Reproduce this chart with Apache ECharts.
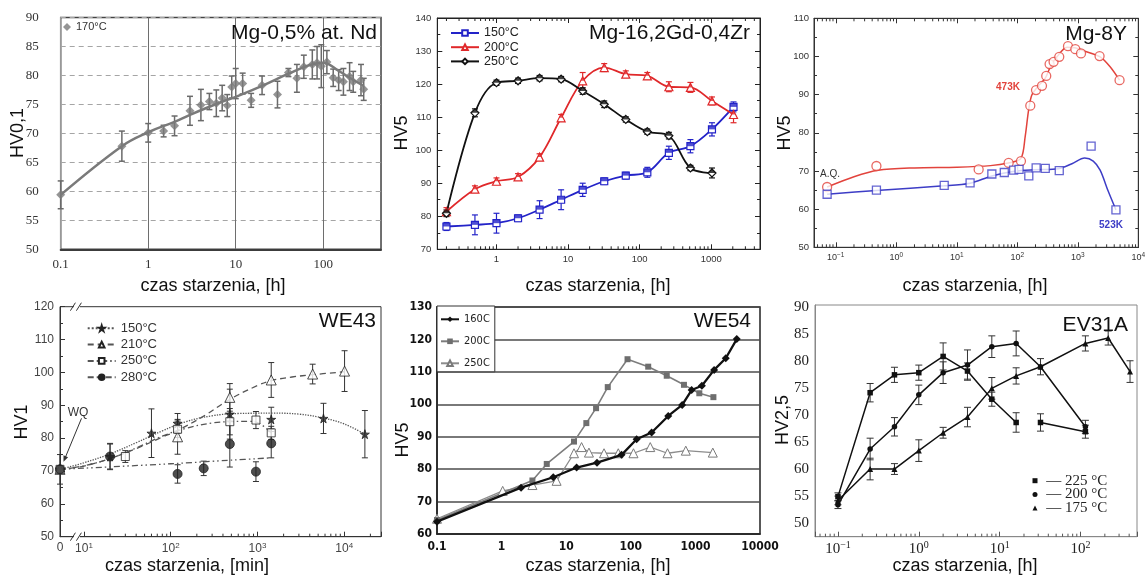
<!DOCTYPE html>
<html>
<head>
<meta charset="utf-8">
<title>Twardość stopów Mg w funkcji czasu starzenia</title>
<script src="https://cdn.jsdelivr.net/npm/echarts@6.0.0/dist/echarts.min.js"></script>
<style>
html, body { margin: 0; padding: 0; background: #fff; }
#chart { width: 1146px; height: 585px; }
</style>
</head>
<body>
<div id="chart"></div>
<script>
// ===== Mg-0,5% at. Nd, ageing at 170°C (HV0,1) =====
const ndTime = [0.1, 0.5, 1, 1.5, 2, 3, 4, 5, 6, 7, 8, 9, 10, 12, 15, 20, 30, 40, 50, 60, 75, 85, 95, 110, 130, 150, 170, 200, 220, 270, 290];
const ndHv   = [59.4, 67.8, 70.1, 70.4, 71.3, 73.9, 74.9, 75.5, 75.2, 76.1, 74.8, 78.0, 78.6, 78.6, 75.7, 78.3, 76.7, 80.5, 79.5, 81.5, 81.9, 82.2, 81.6, 82.3, 79.6, 79.2, 78.9, 79.8, 78.9, 79.2, 77.6];
const ndErr  = [2.4, 2.6, 1.6, 1.0, 1.7, 2.5, 2.7, 1.4, 2.3, 2.2, 1.9, 1.9, 2.6, 1.8, 1.2, 1.6, 2.3, 0.7, 2.4, 2.0, 2.5, 2.8, 3.7, 2.0, 1.5, 1.8, 2.3, 2.4, 1.8, 2.7, 1.9];
const ndTrendTime = [0.1, 0.5, 1, 2, 3, 5, 8, 10, 20, 40, 70, 100, 150, 200, 290];
const ndTrendHv   = [59.4, 67.8, 70.2, 72.0, 73.2, 74.6, 75.8, 76.3, 78.2, 80.3, 81.8, 82.2, 80.8, 79.6, 78.2];

// ===== Mg-16,2Gd-0,4Zr (HV5) =====
const gdTime   = [0.2, 0.5, 1, 2, 4, 8, 16, 32, 64, 128, 256, 512, 1024, 2048];
const gd150    = [76.9, 77.4, 77.9, 79.4, 82.0, 85.0, 88.0, 90.6, 92.3, 93.3, 99.2, 101.2, 106.3, 113.1];
const gd150Err = [1.2, 3.0, 3.0, 1.0, 2.7, 3.0, 2.0, 1.0, 1.0, 1.5, 2.0, 2.0, 2.0, 1.5];
const gd200    = [81.4, 88.2, 90.6, 91.9, 97.9, 109.8, 121.0, 125.0, 123.0, 122.5, 119.2, 119.0, 114.9, 110.8];
const gd200Err = [1.2, 1.0, 1.0, 1.0, 1.0, 1.0, 2.5, 1.2, 1.0, 1.0, 1.5, 1.5, 1.2, 2.5];
const gd250    = [80.9, 111.3, 120.4, 121.0, 121.8, 121.5, 117.9, 113.9, 109.3, 105.6, 104.4, 94.6, 93.1];
const gd250Err = [1.0, 1.2, 0.8, 0.8, 0.8, 0.8, 1.0, 1.0, 0.8, 0.8, 1.0, 0.8, 1.5];

// ===== Mg-8Y (HV5), 473 K and 523 K =====
const y8Time473 = [0.072, 0.47, 23, 72, 115, 164, 204, 256, 301, 342, 398, 494, 689, 910, 1130, 2290, 4900];
const y8Hv473   = [65.8, 71.3, 70.4, 72.1, 72.6, 87.1, 91.2, 92.3, 94.9, 98.0, 98.6, 99.9, 102.7, 101.9, 100.8, 100.1, 93.8];
const y8Time523 = [0.072, 0.47, 6.2, 16.6, 38, 61, 87, 107, 155, 205, 290, 494, 1660, 4270];
const y8Hv523   = [63.9, 65.0, 66.2, 66.9, 69.2, 69.6, 70.2, 70.4, 68.7, 70.8, 70.7, 70.1, 76.5, 59.8];
const y8FitTime473 = [0.072, 0.2, 0.5, 2, 10, 36, 71, 115, 135, 154, 174, 223, 290, 352, 453, 665, 900, 1250, 2340, 3420, 4900];
const y8FitHv473   = [65.8, 68.5, 70.2, 70.8, 71.0, 71.4, 72.1, 73.3, 79.0, 86.0, 89.9, 92.3, 94.3, 97.3, 99.9, 102.4, 102.3, 101.5, 99.9, 97.3, 93.8];
const y8FitTime523 = [0.072, 0.47, 6.2, 16.6, 38, 90, 200, 480, 800, 1300, 1800, 2340, 3200, 4270];
const y8FitHv523   = [63.9, 64.9, 66.1, 66.8, 68.7, 69.9, 70.3, 70.6, 71.9, 73.4, 72.6, 70.2, 64.6, 59.8];

// ===== WE43 (HV1), time in minutes; 0 = water quenched =====
const weT150 = [0, 20, 60, 120, 480, 1440, 5760, 17280];
const weHv150 = [70.5, 74.4, 81.5, 84.5, 87.3, 85.7, 86.0, 81.2];
const weErr150 = [0, 3.8, 7.4, 3.0, 7.6, 3.7, 4.6, 7.2];
const weT210 = [0, 120, 480, 1440, 4320, 10080];
const weHv210 = [70.5, 80.4, 92.4, 97.7, 99.5, 100.4];
const weErr210 = [0, 5.3, 4.2, 5.3, 3.0, 6.2];
const weT250 = [0, 30, 120, 480, 960, 1440];
const weHv250 = [70.5, 74.4, 82.7, 85.0, 85.5, 81.6];
const weErr250 = [0, 1.8, 2.5, 4.0, 2.6, 2.0];
const weT280 = [0, 20, 120, 240, 480, 960, 1440];
const weHv280 = [70.5, 74.4, 69.1, 70.8, 78.2, 69.8, 78.4];
const weErr280 = [4.5, 4.0, 2.8, 2.2, 7.0, 3.0, 4.4];
const weFitT150 = [0, 10, 20, 40, 80, 150, 300, 600, 1500, 3000, 6000, 10000, 17280];
const weFitHv150 = [70.5, 72.5, 75.2, 78.6, 82.2, 85.0, 86.8, 87.5, 87.6, 87.3, 86.0, 84.3, 81.2];
const weFitT210 = [0, 10, 20, 40, 80, 120, 250, 480, 1000, 1440, 2500, 4320, 10080];
const weFitHv210 = [70.5, 71.5, 73.8, 76.8, 80.3, 82.3, 87.0, 91.8, 96.0, 97.5, 98.6, 99.3, 100.2];
const weFitT250 = [0, 10, 20, 40, 80, 150, 300, 480, 800, 960, 1440];
const weFitHv250 = [70.5, 71.6, 73.8, 77.0, 80.6, 83.0, 84.6, 85.0, 85.1, 84.9, 81.6];
const weFitT280 = [0, 100, 500, 1440];
const weFitHv280 = [70.5, 72.2, 73.3, 74.0];

// ===== WE54 (HV5) =====
const w54T160 = [0.1, 2, 6.3, 14.5, 30, 72, 123, 210, 380, 625, 875, 1260, 1950, 2950, 4370];
const w54Hv160 = [63.8, 74.3, 77.5, 80.5, 82.0, 84.4, 89.2, 91.3, 96.4, 99.8, 104.4, 105.7, 110.6, 114.2, 120.1];
const w54T200 = [0.1, 3, 5, 13.2, 20.5, 29, 44, 89, 186, 360, 665, 1150, 1900];
const w54Hv200 = [64.3, 76.5, 81.6, 88.5, 94.2, 98.8, 105.3, 113.9, 111.6, 108.8, 106.0, 103.4, 102.2];
const w54T250 = [0.1, 1.04, 3, 7.1, 13.2, 17.3, 22.5, 38.5, 64, 110, 200, 370, 710, 1860];
const w54Hv250 = [64.7, 73.3, 75.1, 76.4, 84.9, 86.8, 85.1, 84.9, 84.9, 84.9, 86.8, 84.9, 85.7, 85.1];

// ===== EV31A (HV2,5) =====
const evTime = [0.1, 0.25, 0.5, 1, 2, 4, 8, 16, 32, 115];
const ev225 = [54.9, 74.1, 77.4, 77.8, 80.8, 78.1, 72.9, 68.6, 68.6, 66.9];
const ev225Err = [0.7, 1.7, 1.4, 1.4, 2.5, 1.5, 1.3, 1.8, 1.6, 1.2];
const ev225Restart = 8; // the 225 °C curve is interrupted before this point
const ev200 = [53.4, 63.7, 67.8, 73.7, 77.8, 79.2, 82.6, 83.2, 78.9, 67.8];
const ev200Err = [0.7, 2.0, 1.7, 1.8, 2.0, 2.8, 2.0, 2.3, 0, 1.2];
const evTime175 = [0.1, 0.25, 0.5, 1, 2, 4, 8, 16, 32, 115, 220, 410];
const ev175 = [54.2, 60.0, 60.0, 63.4, 66.7, 69.6, 74.9, 77.2, 78.9, 83.2, 84.2, 78.0];
const ev175Err = [0.8, 2.0, 1.0, 2.0, 1.0, 1.8, 2.0, 1.5, 1.5, 1.4, 1.3, 2.0];

// legend texts
const NAMES = {
  nd170: '170°C',
  gd150: '150°C', gd200: '200°C', gd250: '250°C',
  we150: '150°C', we210: '210°C', we250: '250°C', we280: '280°C',
  w160: '160C', w200: '200C', w250: '250C',
  ev225: ' \u2014 225 °C', ev200: ' \u2014 200 °C', ev175: ' \u2014 175 °C'
};

// ---------- layout ----------
const SANS = "'Liberation Sans', Arial, sans-serif";
const SERIF = "'Liberation Serif', 'Times New Roman', serif";
const NARROW = "'Liberation Sans Narrow', 'DejaVu Sans Condensed', sans-serif";

const RANGE = {
  nd:   { x: [0.1, 457],     y: [50, 90] },
  gd:   { x: [0.149, 4800],  y: [70, 140] },
  y8:   { x: [0.0437, 10000], y: [50, 110] },
  we43: { x: [5.3, 26500],   y: [50, 120] },
  we54: { x: [0.1, 10000],   y: [60, 130] },
  ev:   { x: [0.052, 500],   y: [47.5, 90.3] }
};
const weZero = RANGE.we43.x[0]; // position used for t = 0 on the WE43 time axis

const grids = [
  { left: 60.7, top: 17.5, width: 320.3, height: 231.8, show: true, borderColor: '#444', borderWidth: 1.5 },
  { left: 437.3, top: 18, width: 322.7, height: 231.3, show: true, borderColor: '#222', borderWidth: 1 },
  { left: 814, top: 18.3, width: 324.3, height: 229, show: true, borderColor: '#333', borderWidth: 1 },
  { left: 60, top: 306.7, width: 321, height: 230, show: true, borderColor: '#333', borderWidth: 1 },
  { left: 437, top: 307, width: 323, height: 227, show: true, borderColor: '#222', borderWidth: 1.5 },
  { left: 815, top: 305, width: 322, height: 231.7, show: true, borderColor: '#888', borderWidth: 1 }
].map(g => Object.assign({ outerBoundsMode: 'none', containLabel: false }, g));

// ---------- helpers ----------
const pair = (ts, vs) => ts.map((t, i) => [t, vs[i]]);
const triple = (ts, vs, es) => ts.map((t, i) => [t, vs[i], es[i]]).filter(d => d[2] > 0);
const weX = t => (t === 0 ? weZero : t);

function isPow10(v) { const l = Math.log10(v); return Math.abs(l - Math.round(l)) < 1e-6; }
function plainLog(v) {
  if (!isPow10(v)) return '';
  const r = Math.round(Math.log10(v));
  return r < 0 ? Math.pow(10, r).toFixed(-r) : String(Math.round(Math.pow(10, r)));
}
function supLog(v) {
  if (!isPow10(v)) return '';
  const r = Math.round(Math.log10(v));
  return '{b|10}{s|' + (r < 0 ? '\u2212' + (-r) : r) + '}';
}
function supRich(font, base, sup, color, lift) {
  return {
    b: { fontFamily: font, fontSize: base, color },
    s: { fontFamily: font, fontSize: sup, color, padding: [0, 0, lift, 0] }
  };
}

function errBars(ax, data, color, cap, width) {
  return {
    type: 'custom', xAxisIndex: ax, yAxisIndex: ax, silent: true, z: 2, clip: false,
    dimensions: ['t', 'hv', 'err'], encode: { x: 't', y: 'hv' }, data,
    renderItem(params, api) {
      const t = api.value(0), v = api.value(1), e = api.value(2);
      const a = api.coord([t, v + e]), b = api.coord([t, v - e]);
      const h = cap / 2;
      const st = () => ({ stroke: color, lineWidth: width });
      return { type: 'group', children: [
        { type: 'line', shape: { x1: a[0], y1: a[1], x2: b[0], y2: b[1] }, style: st() },
        { type: 'line', shape: { x1: a[0] - h, y1: a[1], x2: a[0] + h, y2: a[1] }, style: st() },
        { type: 'line', shape: { x1: b[0] - h, y1: b[1], x2: b[0] + h, y2: b[1] }, style: st() }
      ] };
    }
  };
}

// minor ticks of a log axis (2..9 in every decade), drawn inward from one edge
function logMinorTicks(ax, range, yEdge, len, color, from) {
  const vals = [];
  const lo = from || range[0];
  for (let k = Math.floor(Math.log10(range[0])); k <= Math.floor(Math.log10(range[1])); k++) {
    for (let m = 2; m <= 9; m++) {
      const v = m * Math.pow(10, k);
      if (v > lo && v < range[1]) vals.push([v, yEdge]);
    }
  }
  return {
    type: 'custom', xAxisIndex: ax, yAxisIndex: ax, silent: true, clip: false, z: 6,
    encode: { x: 0, y: 1 }, data: vals,
    renderItem(p, api) {
      const c = api.coord([api.value(0), api.value(1)]);
      return { type: 'line', shape: { x1: c[0], y1: c[1], x2: c[0], y2: c[1] + len }, style: { stroke: color, lineWidth: 1 } };
    }
  };
}

const STAR = 'path://M50,0 L61,35 L98,35 L68,57 L79,91 L50,70 L21,91 L32,57 L2,35 L39,35 Z';

// ---------- axes ----------
const xAxis = [
  { gridIndex: 0, type: 'log', min: RANGE.nd.x[0], max: RANGE.nd.x[1],
    axisLine: { lineStyle: { color: '#3c3c3c', width: 2 } }, axisTick: { show: false },
    splitLine: { show: true, lineStyle: { color: '#6e6e6e', width: 1 } },
    axisLabel: { fontFamily: SERIF, fontSize: 13, color: '#333', margin: 9, formatter: plainLog } },
  { gridIndex: 1, type: 'log', min: RANGE.gd.x[0], max: RANGE.gd.x[1],
    axisLine: { lineStyle: { color: '#222' } }, axisTick: { inside: true, length: 5, lineStyle: { color: '#222' } },
    splitLine: { show: false },
    axisLabel: { fontFamily: SANS, fontSize: 9.5, color: '#333', margin: 5, formatter: plainLog } },
  { gridIndex: 2, type: 'log', min: RANGE.y8.x[0], max: RANGE.y8.x[1],
    axisLine: { lineStyle: { color: '#333' } }, axisTick: { inside: true, length: 5, lineStyle: { color: '#333' } },
    splitLine: { show: false },
    axisLabel: { margin: 4, formatter: supLog, rich: supRich(SANS, 9, 6.5, '#333', 5) } },
  { gridIndex: 3, type: 'log', min: RANGE.we43.x[0], max: RANGE.we43.x[1],
    axisLine: { lineStyle: { color: '#333' } }, axisTick: { inside: true, length: 5, lineStyle: { color: '#333' } },
    splitLine: { show: false },
    axisLabel: { margin: 5, formatter: v => (v < 9 ? '{b|0}' : supLog(v)), rich: supRich(SANS, 12, 8, '#444', 6) } },
  { gridIndex: 4, type: 'log', min: RANGE.we54.x[0], max: RANGE.we54.x[1],
    axisLine: { lineStyle: { color: '#222', width: 1.5 } }, axisTick: { show: false },
    splitLine: { show: false },
    axisLabel: { fontFamily: NARROW, fontWeight: 'bold', fontSize: 12, color: '#111', margin: 7, formatter: plainLog } },
  { gridIndex: 5, type: 'log', min: RANGE.ev.x[0], max: RANGE.ev.x[1],
    axisLine: { lineStyle: { color: '#888' } }, axisTick: { inside: true, length: 5, lineStyle: { color: '#555' } },
    splitLine: { show: false },
    axisLabel: { margin: 4, formatter: supLog, rich: supRich(SERIF, 15, 10, '#222', 7) } },
  // mirrored top axes
  { gridIndex: 1, type: 'log', position: 'top', min: RANGE.gd.x[0], max: RANGE.gd.x[1],
    axisLine: { lineStyle: { color: '#222' } }, axisTick: { inside: true, length: 5, lineStyle: { color: '#222' } },
    axisLabel: { show: false }, splitLine: { show: false } },
  { gridIndex: 2, type: 'log', position: 'top', min: RANGE.y8.x[0], max: RANGE.y8.x[1],
    axisLine: { lineStyle: { color: '#333' } }, axisTick: { inside: true, length: 5, lineStyle: { color: '#333' } },
    axisLabel: { show: false }, splitLine: { show: false } }
];

const yAxis = [
  { gridIndex: 0, type: 'value', min: RANGE.nd.y[0], max: RANGE.nd.y[1], interval: 5,
    axisLine: { show: true, lineStyle: { color: '#999' } }, axisTick: { show: false },
    splitLine: { show: true, lineStyle: { type: [5, 4], color: '#a5a5a5' } },
    axisLabel: { fontFamily: SERIF, fontSize: 13, color: '#333', margin: 22 } },
  { gridIndex: 1, type: 'value', min: RANGE.gd.y[0], max: RANGE.gd.y[1], interval: 10,
    axisLine: { show: true, lineStyle: { color: '#222' } },
    axisTick: { inside: true, length: 5, lineStyle: { color: '#222' } },
    minorTick: { show: true, splitNumber: 2, length: 3, lineStyle: { color: '#222' } },
    splitLine: { show: false },
    axisLabel: { fontFamily: SANS, fontSize: 9.5, color: '#333', margin: 6 } },
  { gridIndex: 2, type: 'value', min: RANGE.y8.y[0], max: RANGE.y8.y[1], interval: 10,
    axisLine: { show: true, lineStyle: { color: '#333' } },
    axisTick: { inside: true, length: 5, lineStyle: { color: '#333' } },
    minorTick: { show: true, splitNumber: 2, length: 3, lineStyle: { color: '#333' } },
    splitLine: { show: false },
    axisLabel: { fontFamily: SANS, fontSize: 9.5, color: '#333', margin: 5 } },
  { gridIndex: 3, type: 'value', min: RANGE.we43.y[0], max: RANGE.we43.y[1], interval: 10,
    axisLine: { show: true, lineStyle: { color: '#333' } },
    axisTick: { inside: true, length: 5, lineStyle: { color: '#333' } },
    minorTick: { show: true, splitNumber: 2, length: 3, lineStyle: { color: '#333' } },
    splitLine: { show: false },
    axisLabel: { fontFamily: SANS, fontSize: 12, color: '#444', margin: 6 } },
  { gridIndex: 4, type: 'value', min: RANGE.we54.y[0], max: RANGE.we54.y[1], interval: 10,
    axisLine: { show: true, lineStyle: { color: '#222', width: 1.5 } }, axisTick: { show: false },
    splitLine: { show: true, lineStyle: { color: '#4d4d4d', width: 1.5 } },
    axisLabel: { fontFamily: NARROW, fontWeight: 'bold', fontSize: 12, color: '#111', margin: 5 } },
  { gridIndex: 5, type: 'value', min: RANGE.ev.y[0], max: RANGE.ev.y[1], splitNumber: 8,
    axisLine: { show: true, lineStyle: { color: '#888' } }, axisTick: { show: false },
    splitLine: { show: false },
    axisLabel: { fontFamily: SERIF, fontSize: 15, color: '#222', margin: 6,
      formatter: v => (Math.abs(v % 5) < 1e-6 ? String(v) : '') } },
  // mirrored right axes
  { gridIndex: 1, type: 'value', position: 'right', min: RANGE.gd.y[0], max: RANGE.gd.y[1], interval: 10,
    axisLine: { show: true, lineStyle: { color: '#222' } },
    axisTick: { inside: true, length: 5, lineStyle: { color: '#222' } },
    minorTick: { show: true, splitNumber: 2, length: 3, lineStyle: { color: '#222' } },
    axisLabel: { show: false }, splitLine: { show: false } },
  { gridIndex: 2, type: 'value', position: 'right', min: RANGE.y8.y[0], max: RANGE.y8.y[1], interval: 10,
    axisLine: { show: true, lineStyle: { color: '#333' } },
    axisTick: { inside: true, length: 5, lineStyle: { color: '#333' } },
    minorTick: { show: true, splitNumber: 2, length: 3, lineStyle: { color: '#333' } },
    axisLabel: { show: false }, splitLine: { show: false } }
];

// ---------- series ----------
const series = [];

// Mg-0,5% at. Nd
const ND_GREY = '#7a7a7a';
series.push(errBars(0, triple(ndTime, ndHv, ndErr), '#6a6a6a', 6, 1.5));
series.push({ name: 'ndTrend', type: 'line', xAxisIndex: 0, yAxisIndex: 0, data: pair(ndTrendTime, ndTrendHv),
  smooth: 0.4, showSymbol: false, symbol: 'none', lineStyle: { color: ND_GREY, width: 2.5 }, z: 3 });
series.push({ name: 'nd170', type: 'scatter', xAxisIndex: 0, yAxisIndex: 0, data: pair(ndTime, ndHv),
  symbol: 'diamond', symbolSize: 9, itemStyle: { color: ND_GREY }, z: 4 });

// Mg-16,2Gd-0,4Zr
const GD = [
  { key: 'gd150', vals: gd150, err: gd150Err, color: '#2323c8', symbol: 'rect', size: 7, half: ['rect', [7, 3.5]] },
  { key: 'gd200', vals: gd200, err: gd200Err, color: '#e0282a', symbol: 'triangle', size: 8, half: ['triangle', [4, 4]] },
  { key: 'gd250', vals: gd250, err: gd250Err, color: '#111111', symbol: 'diamond', size: 8, half: ['triangle', [8, 4]] }
];
GD.forEach(s => {
  const t = gdTime.slice(0, s.vals.length);
  series.push(errBars(1, triple(t, s.vals, s.err), s.color, 6, 1.2));
  series.push({ name: s.key, type: 'line', xAxisIndex: 1, yAxisIndex: 1, data: pair(t, s.vals), smooth: 0.35,
    symbol: s.symbol, symbolSize: s.size, showSymbol: true,
    lineStyle: { color: s.color, width: 1.8 }, itemStyle: { color: '#fff', borderColor: s.color, borderWidth: 1.2 }, z: 3 });
  series.push({ name: s.key + 'Fill', type: 'scatter', xAxisIndex: 1, yAxisIndex: 1, data: pair(t, s.vals), silent: true,
    symbol: s.half[0], symbolSize: s.half[1], symbolOffset: [0, -s.half[1][1] / 2], itemStyle: { color: s.color }, z: 4 });
});

// Mg-8Y
const RED = '#e2433c', BLUE = '#3d3dc6';
series.push({ name: 'y8Fit473', type: 'line', xAxisIndex: 2, yAxisIndex: 2, data: pair(y8FitTime473, y8FitHv473),
  smooth: 0.3, showSymbol: false, symbol: 'none', lineStyle: { color: RED, width: 1.5 }, z: 3 });
series.push({ name: 'y8Fit523', type: 'line', xAxisIndex: 2, yAxisIndex: 2, data: pair(y8FitTime523, y8FitHv523),
  smooth: 0.3, showSymbol: false, symbol: 'none', lineStyle: { color: BLUE, width: 1.5 }, z: 3 });
series.push({ name: 'y8pts473', type: 'scatter', xAxisIndex: 2, yAxisIndex: 2, data: pair(y8Time473, y8Hv473),
  symbol: 'circle', symbolSize: 9, itemStyle: { color: '#fff', borderColor: RED, borderWidth: 1.3 }, z: 4 });
series.push({ name: 'y8pts523', type: 'scatter', xAxisIndex: 2, yAxisIndex: 2, data: pair(y8Time523, y8Hv523),
  symbol: 'rect', symbolSize: 8, itemStyle: { color: '#fff', borderColor: BLUE, borderWidth: 1.3 }, z: 4 });

// WE43
const WE_LINE = '#555', WE_MARK = '#222';
const WE = [
  { key: 'we150', t: weT150, v: weHv150, e: weErr150, ft: weFitT150, fv: weFitHv150, dash: 'dotted',
    symbol: STAR, size: 9, fill: WE_MARK },
  { key: 'we210', t: weT210, v: weHv210, e: weErr210, ft: weFitT210, fv: weFitHv210, dash: [6, 4],
    symbol: 'triangle', size: 10, fill: '#fff' },
  { key: 'we250', t: weT250, v: weHv250, e: weErr250, ft: weFitT250, fv: weFitHv250, dash: [6, 3, 1.5, 3],
    symbol: 'rect', size: 8, fill: '#fff' },
  { key: 'we280', t: weT280, v: weHv280, e: weErr280, ft: weFitT280, fv: weFitHv280, dash: [6, 3, 1.5, 3, 1.5, 3],
    symbol: 'circle', size: 9, fill: WE_MARK }
];
WE.forEach(s => {
  series.push(errBars(3, triple(s.t.map(weX), s.v, s.e), '#333', 6, 1));
  series.push({ name: s.key, type: 'line', xAxisIndex: 3, yAxisIndex: 3, data: pair(s.ft.map(weX), s.fv),
    smooth: 0.4, showSymbol: false, symbol: s.symbol, symbolSize: 7,
    lineStyle: { color: WE_LINE, width: 1.3, type: s.dash },
    itemStyle: { color: s.fill, borderColor: WE_MARK, borderWidth: 1 }, z: 3 });
  series.push({ name: s.key + 'Pts', type: 'scatter', xAxisIndex: 3, yAxisIndex: 3, data: pair(s.t.map(weX), s.v),
    symbol: s.symbol, symbolSize: s.size, itemStyle: { color: s.fill, borderColor: WE_MARK, borderWidth: 1 }, z: 4 });
});

// WE54
series.push({ name: 'w250', type: 'line', xAxisIndex: 4, yAxisIndex: 4, data: pair(w54T250, w54Hv250),
  symbol: 'triangle', symbolSize: 9, lineStyle: { color: '#8c8c8c', width: 1.3 },
  itemStyle: { color: '#fff', borderColor: '#7a7a7a', borderWidth: 1 }, z: 3 });
series.push({ name: 'w200', type: 'line', xAxisIndex: 4, yAxisIndex: 4, data: pair(w54T200, w54Hv200),
  symbol: 'rect', symbolSize: 6, lineStyle: { color: '#7d7d7d', width: 1.6 }, itemStyle: { color: '#6e6e6e' }, z: 3 });
series.push({ name: 'w160', type: 'line', xAxisIndex: 4, yAxisIndex: 4, data: pair(w54T160, w54Hv160),
  symbol: 'diamond', symbolSize: 8, lineStyle: { color: '#111', width: 2.3 }, itemStyle: { color: '#111' }, z: 4 });

// EV31A
const EV = '#111';
series.push(errBars(5, triple(evTime, ev225, ev225Err), '#333', 7, 1));
series.push(errBars(5, triple(evTime, ev200, ev200Err), '#333', 7, 1));
series.push(errBars(5, triple(evTime175, ev175, ev175Err), '#333', 7, 1));
series.push({ name: 'ev225', type: 'line', xAxisIndex: 5, yAxisIndex: 5,
  data: pair(evTime.slice(0, ev225Restart), ev225.slice(0, ev225Restart)),
  symbol: 'rect', symbolSize: 5.5, lineStyle: { color: EV, width: 1.5 }, itemStyle: { color: EV }, z: 3 });
series.push({ name: 'ev225b', type: 'line', xAxisIndex: 5, yAxisIndex: 5,
  data: pair(evTime.slice(ev225Restart), ev225.slice(ev225Restart)),
  symbol: 'rect', symbolSize: 5.5, lineStyle: { color: EV, width: 1.5 }, itemStyle: { color: EV }, z: 3 });
series.push({ name: 'ev200', type: 'line', xAxisIndex: 5, yAxisIndex: 5, data: pair(evTime, ev200),
  symbol: 'circle', symbolSize: 5.5, lineStyle: { color: EV, width: 1.5 }, itemStyle: { color: EV }, z: 3 });
series.push({ name: 'ev175', type: 'line', xAxisIndex: 5, yAxisIndex: 5, data: pair(evTime175, ev175),
  symbol: 'triangle', symbolSize: 6, lineStyle: { color: EV, width: 1.5 }, itemStyle: { color: EV }, z: 3 });

// log-axis minor ticks
series.push(logMinorTicks(1, RANGE.gd.x, RANGE.gd.y[0], -3, '#222'));
series.push(logMinorTicks(1, RANGE.gd.x, RANGE.gd.y[1], 3, '#222'));
series.push(logMinorTicks(2, RANGE.y8.x, RANGE.y8.y[0], -3, '#333'));
series.push(logMinorTicks(2, RANGE.y8.x, RANGE.y8.y[1], 3, '#333'));
series.push(logMinorTicks(3, RANGE.we43.x, RANGE.we43.y[0], -3, '#333', 15));
series.push(logMinorTicks(5, RANGE.ev.x, RANGE.ev.y[0], -3, '#555'));

// ---------- legends ----------
const fmt = n => NAMES[n] || n;
const legend = [
  { left: 63, top: 21.5, padding: 0, selectedMode: false, itemWidth: 8, itemHeight: 8,
    data: [{ name: 'nd170', icon: 'diamond' }], formatter: fmt,
    textStyle: { fontFamily: SANS, fontSize: 11, color: '#333' } },
  { left: 450, top: 26.5, orient: 'vertical', padding: 0, selectedMode: false, itemWidth: 28, itemHeight: 7, itemGap: 1.2,
    data: ['gd150', 'gd200', 'gd250'], formatter: fmt,
    textStyle: { fontFamily: SANS, fontSize: 12.5, color: '#222' } },
  { left: 86.7, top: 321.8, orient: 'vertical', padding: 0, selectedMode: false, itemWidth: 28, itemHeight: 7, itemGap: 3.3,
    data: ['we150', 'we210', 'we250', 'we280'], formatter: fmt,
    textStyle: { fontFamily: SANS, fontSize: 13, color: '#333' } },
  { left: 437, top: 306, orient: 'vertical', padding: [7.8, 5, 3, 3], selectedMode: false, itemWidth: 18, itemHeight: 7, itemGap: 11,
    backgroundColor: '#fff', borderColor: '#333', borderWidth: 1,
    data: ['w160', 'w200', 'w250'], formatter: fmt,
    textStyle: { fontFamily: NARROW, fontSize: 11, color: '#222' } },
  { left: 1032.5, top: 473.2, orient: 'vertical', padding: 0, selectedMode: false, itemWidth: 5, itemHeight: 5, itemGap: -1.3,
    data: [{ name: 'ev225', icon: 'rect' }, { name: 'ev200', icon: 'circle' }, { name: 'ev175', icon: 'triangle' }],
    formatter: fmt, textStyle: { fontFamily: SERIF, fontSize: 15, color: '#222' } }
];

const chart = echarts.init(document.getElementById('chart'), null, { renderer: 'canvas' });
chart.setOption({
  animation: false,
  backgroundColor: '#fff',
  grid: grids,
  xAxis, yAxis, series, legend
});

// ---------- texts, axis titles and WE43 decorations ----------
const G = [];
function txt(x, y, text, font, fill, align, rot) {
  G.push({ type: 'text', x, y, rotation: rot || 0, silent: true, z: 50,
    style: { text, font, fill, align: align || 'center', verticalAlign: 'middle' } });
}
const TITLE = "21px " + SANS;
const AXT = "18px " + SANS;
const UP = Math.PI / 2;

txt(377, 33, 'Mg-0,5% at. Nd', TITLE, '#111', 'right');
txt(750, 33, 'Mg-16,2Gd-0,4Zr', TITLE, '#111', 'right');
txt(1127, 34, 'Mg-8Y', TITLE, '#111', 'right');
txt(376, 321, 'WE43', TITLE, '#111', 'right');
txt(751, 321, 'WE54', TITLE, '#111', 'right');
txt(1128, 325, 'EV31A', TITLE, '#111', 'right');

txt(18, 133, 'HV0,1', AXT, '#111', 'center', UP);
txt(402, 133, 'HV5', AXT, '#111', 'center', UP);
txt(785, 133, 'HV5', AXT, '#111', 'center', UP);
txt(22, 422, 'HV1', AXT, '#111', 'center', UP);
txt(403, 440, 'HV5', AXT, '#111', 'center', UP);
txt(783, 420, 'HV2,5', AXT, '#111', 'center', UP);

txt(213, 286, 'czas starzenia, [h]', AXT, '#111');
txt(598, 286, 'czas starzenia, [h]', AXT, '#111');
txt(975, 286, 'czas starzenia, [h]', AXT, '#111');
txt(187, 566, 'czas starzenia, [min]', AXT, '#111');
txt(598, 566, 'czas starzenia, [h]', AXT, '#111');
txt(965, 566, 'czas starzenia, [h]', AXT, '#111');

txt(1008, 87.5, '473K', "bold 10px " + SANS, RED);
txt(1111, 225, '523K', "bold 10px " + SANS, BLUE);
txt(830, 174, 'A.Q.', "10px " + SANS, '#333');
txt(78, 413, 'WQ', "12px " + SANS, '#333');

// WQ arrow pointing at the as-quenched point
const q = chart.convertToPixel({ gridIndex: 3 }, [weZero, weHv280[0]]);
const tip = [q[0] + 3.5, q[1] - 7.5], tail = [q[0] + 21.5, q[1] - 51];
const dx = tip[0] - tail[0], dy = tip[1] - tail[1], dl = Math.hypot(dx, dy);
const ux = dx / dl, uy = dy / dl, nx = -uy, ny = ux;
G.push({ type: 'line', silent: true, z: 50, shape: { x1: tail[0], y1: tail[1], x2: tip[0] - ux * 3, y2: tip[1] - uy * 3 },
  style: { stroke: '#333', lineWidth: 1 } });
G.push({ type: 'polygon', silent: true, z: 50, shape: { points: [tip,
  [tip[0] - ux * 6 + nx * 2.5, tip[1] - uy * 6 + ny * 2.5],
  [tip[0] - ux * 6 - nx * 2.5, tip[1] - uy * 6 - ny * 2.5]] }, style: { fill: '#333' } });

// axis break marks next to t = 0
const bx = chart.convertToPixel({ xAxisIndex: 3 }, 8.3);
[RANGE.we43.y[1], RANGE.we43.y[0]].forEach(v => {
  const by = chart.convertToPixel({ yAxisIndex: 3 }, v);
  G.push({ type: 'rect', silent: true, z: 60, shape: { x: bx - 3, y: by - 2, width: 6, height: 4 }, style: { fill: '#fff' } });
  G.push({ type: 'line', silent: true, z: 61, shape: { x1: bx - 6.5, y1: by + 4, x2: bx - 1.5, y2: by - 4 }, style: { stroke: '#333', lineWidth: 1 } });
  G.push({ type: 'line', silent: true, z: 61, shape: { x1: bx - 0.5, y1: by + 4, x2: bx + 4.5, y2: by - 4 }, style: { stroke: '#333', lineWidth: 1 } });
});

chart.setOption({ graphic: G });
</script>
</body>
</html>
